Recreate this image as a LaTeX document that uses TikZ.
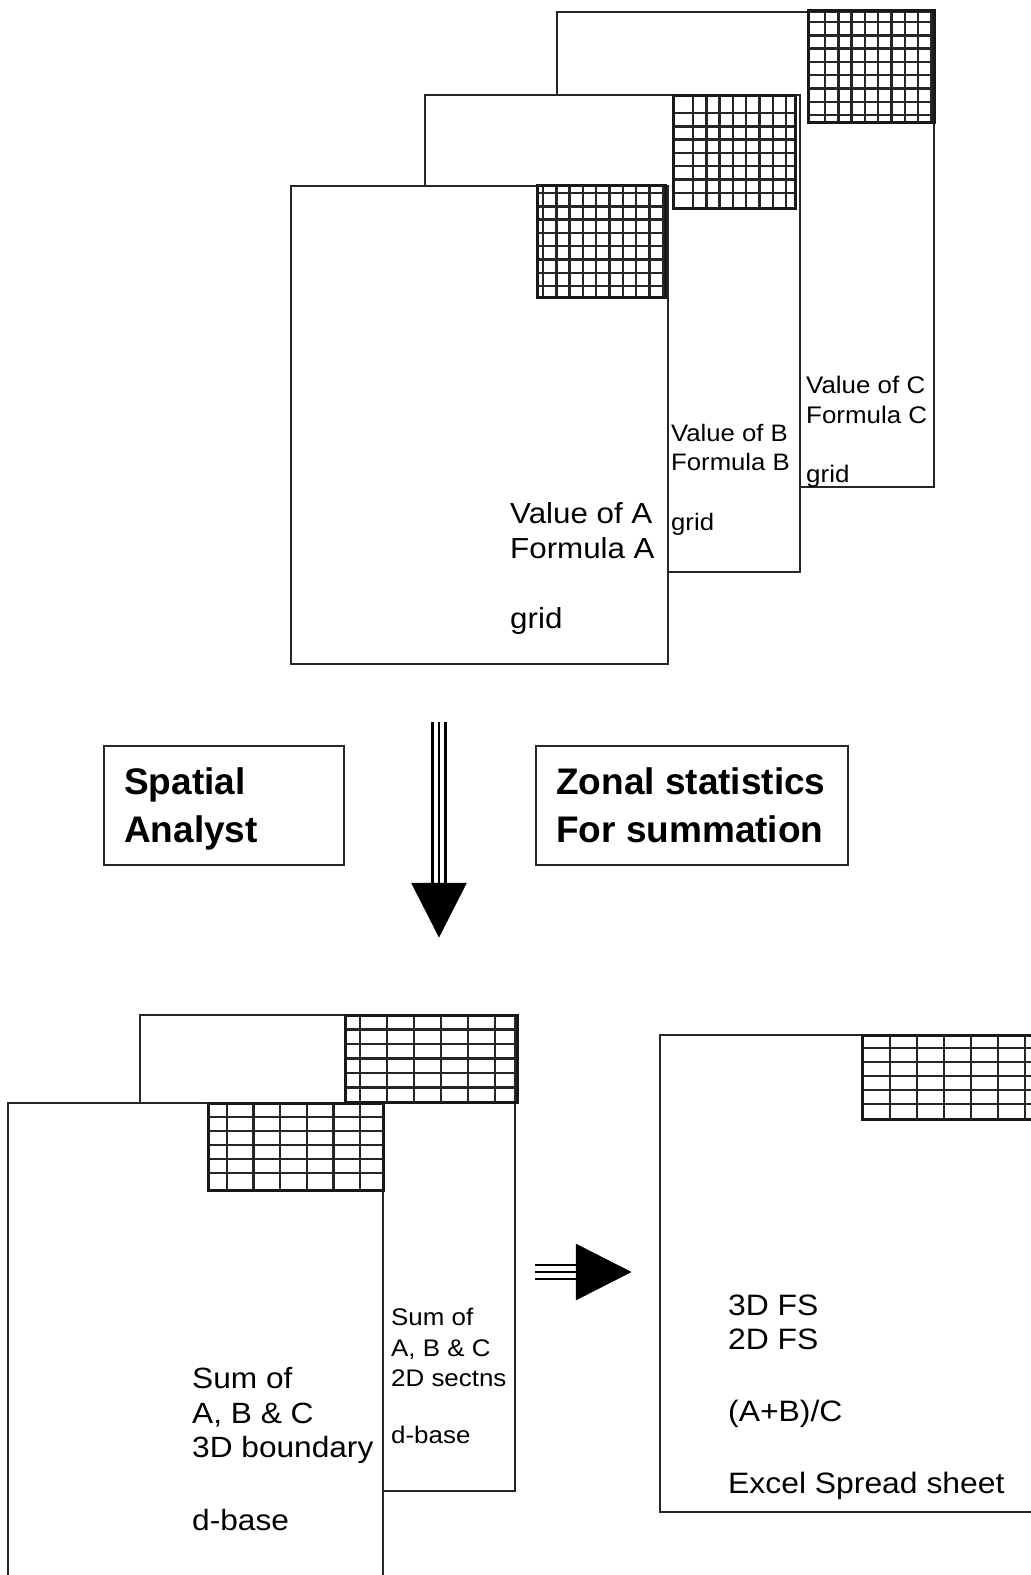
\documentclass[tikz,border=0pt]{standalone}
\usepackage{fontspec}
\setmainfont{Liberation Sans}
\newfontfamily\lbf[FakeStretch=1.08]{Liberation Sans}
\newcommand\fsz[1]{\lbf\fontsize{#1}{#1}\selectfont}
\newcommand\bsz[1]{\fontsize{#1}{#1}\selectfont\bfseries}
\tikzset{
  sheet/.style={draw=black!85, line width=2.4pt, fill=white},
  gridbox/.style={draw=black!90, line width=3pt},
  gridln/.style={draw=black!85, line width=2.4pt},
  txt/.style={anchor=base west, inner sep=0pt, font=#1},
  lab/.style={draw=black!85, line width=1.4pt, fill=white},
  tri/.style={fill=black, draw=black},
  shaft/.style={draw=black, line width=2.8pt},
}
\begin{document}
\begin{tikzpicture}[x=1pt,y=-1pt]
\useasboundingbox (0,0) rectangle (1031,1575);
\clip (0,0) rectangle (1031,1575);
\fill[white] (0,0) rectangle (1031,1575);

% ---------- top stack ----------
% sheet C
\draw[sheet] (557,12) rectangle (934,487);
\foreach \x in {825,838.3,...,932} \draw[gridln] (\x,10) -- (\x,122);
\foreach \y in {22,35.3,...,118} \draw[gridln] (808,\y) -- (934,\y);
\draw[gridbox] (808,10) rectangle (934,122);
\node[txt={\fsz{24}}] (c1) at (806,393) {Value of C};
\node[txt={\fsz{24}}] (c2) at (806,423) {Formula C};
\node[txt={\fsz{24}}] (c3) at (806,482) {grid};

% sheet B
\draw[sheet] (425,95) rectangle (800,572);
\foreach \x in {693,706.3,...,790} \draw[gridln] (\x,95) -- (\x,208);
\foreach \y in {113,126.3,...,200} \draw[gridln] (673,\y) -- (795,\y);
\draw[gridbox] (673,95) rectangle (795,208);
\node[txt={\fsz{23.8}}] (b1) at (671,441) {Value of B};
\node[txt={\fsz{23.8}}] (b2) at (671,470) {Formula B};
\node[txt={\fsz{23.8}}] (b3) at (671,530) {grid};

% sheet A
\draw[sheet] (291,186) rectangle (668,664);
\foreach \x in {543,556.3,...,663} \draw[gridln] (\x,185) -- (\x,297);
\foreach \y in {193,206.3,...,292} \draw[gridln] (537,\y) -- (665,\y);
\draw[gridbox] (537,185) rectangle (665,297);
\node[txt={\fsz{29}}] (a1) at (510,523) {Value of A};
\node[txt={\fsz{29}}] (a2) at (510,558) {Formula A};
\node[txt={\fsz{29}}] (a3) at (510,628) {grid};

% ---------- middle ----------
\draw[lab] (104,746) rectangle (344,865);
\node[txt={\bsz{37}}] (sa1) at (124,794) {Spatial};
\node[txt={\bsz{37}}] (sa2) at (124,842) {Analyst};
\draw[lab] (536,746) rectangle (848,865);
\node[txt={\bsz{37}}] (zs1) at (556,794) {Zonal statistics};
\node[txt={\bsz{37}}] (zs2) at (556,842) {For summation};

% down arrow
\coordinate (dtop) at (439,722);
\coordinate (dbase) at (439,883);
\coordinate (dtip) at (439,937);
\foreach \dx in {-6.5,0,6.5} \draw[shaft] ([xshift=\dx pt]dtop) -- ([xshift=\dx pt]dbase);
\fill[tri] ([xshift=-27.5pt]dbase) -- ([xshift=27.5pt]dbase) -- (dtip) -- cycle;

% ---------- bottom left stack ----------
\draw[sheet] (140,1015) rectangle (515,1491);
\foreach \x in {360,387,...,500} \draw[gridln] (\x,1015) -- (\x,1102);
\foreach \y in {1029.5,1044,...,1092} \draw[gridln] (345,\y) -- (517,\y);
\draw[gridbox] (345,1015) rectangle (517,1102);
\node[txt={\fsz{24}}] (d1) at (391,1325) {Sum of};
\node[txt={\fsz{24}}] (d2) at (391,1356) {A, B \& C};
\node[txt={\fsz{24}}] (d3) at (391,1386) {2D sectns};
\node[txt={\fsz{24}}] (d4) at (391,1443) {d-base};

\draw[sheet] (8,1103) rectangle (383,1600);
\foreach \x in {227,253.6,...,370} \draw[gridln] (\x,1103) -- (\x,1190);
\foreach \y in {1117,1131,...,1185} \draw[gridln] (208,\y) -- (383,\y);
\draw[gridbox] (208,1103) rectangle (383,1190);
\node[txt={\fsz{29.3}}] (e1) at (192,1388) {Sum of};
\node[txt={\fsz{29.3}}] (e2) at (192,1423) {A, B \& C};
\node[txt={\fsz{29.3}}] (e3) at (192,1457) {3D boundary};
\node[txt={\fsz{29.3}}] (e4) at (192,1530) {d-base};

% right arrow
\coordinate (rtail) at (535,1272);
\coordinate (rbase) at (576,1272);
\coordinate (rtip) at (631,1272);
\foreach \dy in {-7,0,7} \draw[shaft] ([yshift=\dy pt]rtail) -- ([yshift=\dy pt]rbase);
\fill[tri] ([yshift=-28pt]rbase) -- ([yshift=28pt]rbase) -- (rtip) -- cycle;

% ---------- right sheet ----------
\draw[sheet] (660,1035) rectangle (1050,1512);
\foreach \x in {890,917,...,1045} \draw[gridln] (\x,1035) -- (\x,1119);
\foreach \y in {1048,1062,...,1114} \draw[gridln] (862,\y) -- (1050,\y);
\draw[gridbox] (862,1035) rectangle (1050,1119);
\node[txt={\fsz{29.5}}] (f1) at (728,1315) {3D FS};
\node[txt={\fsz{29.5}}] (f2) at (728,1349) {2D FS};
\node[txt={\fsz{29.5}}] (f3) at (728,1421) {(A+B)/C};
\node[txt={\fsz{29.5}}] (f4) at (728,1493) {Excel Spread sheet};
\end{tikzpicture}
\end{document}
